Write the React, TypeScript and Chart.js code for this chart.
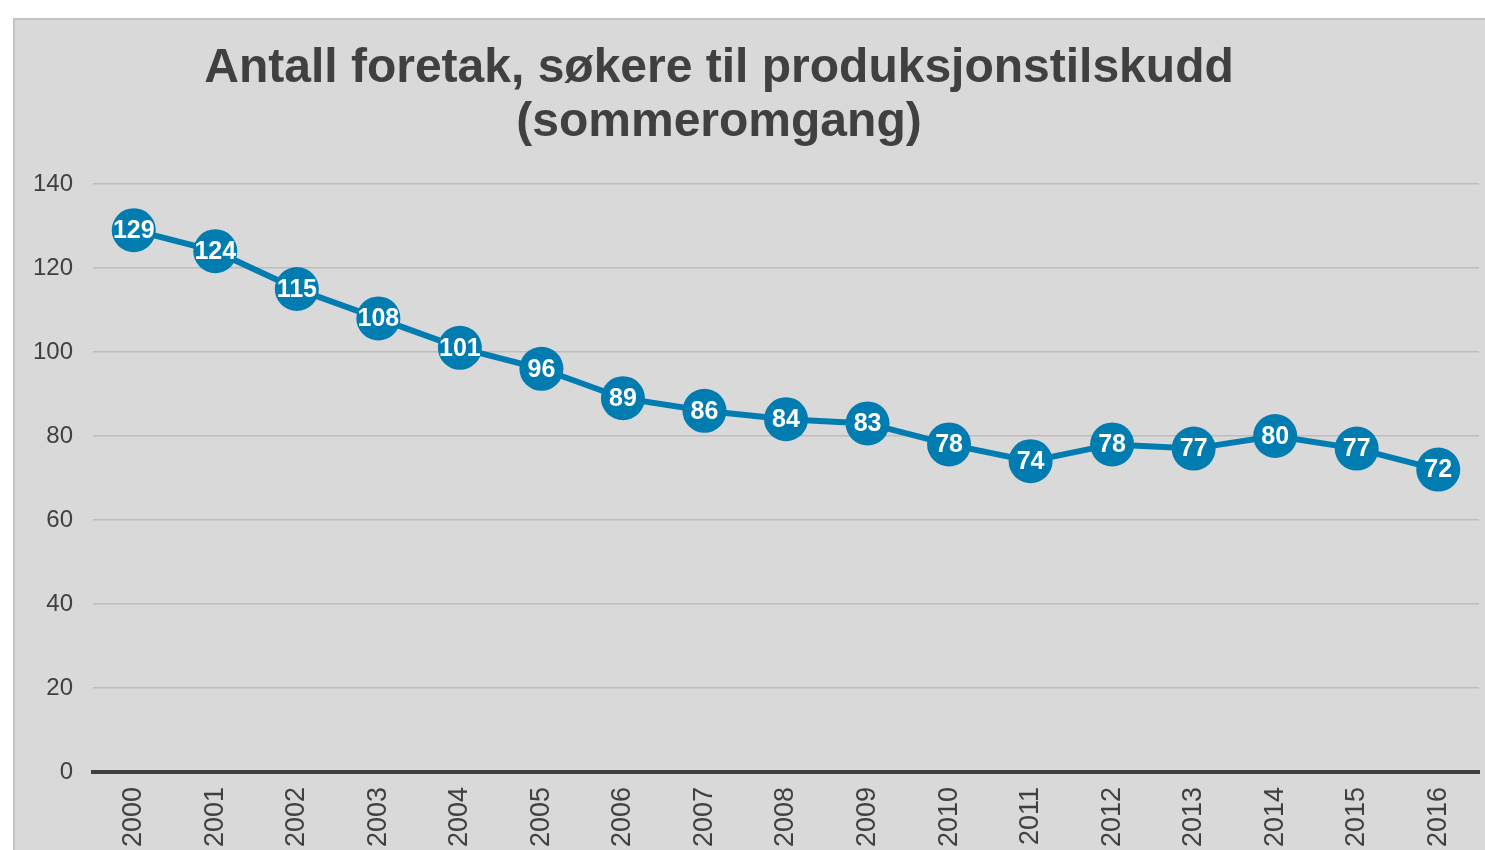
import React, { useEffect, useRef } from "react";
import { Chart, registerables } from "chart.js";

Chart.register(...registerables);

const years = ["2000","2001","2002","2003","2004","2005","2006","2007","2008","2009","2010","2011","2012","2013","2014","2015","2016"];
const foretak = [129, 124, 115, 108, 101, 96, 89, 86, 84, 83, 78, 74, 78, 77, 80, 77, 72];
const titleLines = ["Antall foretak, søkere til produksjonstilskudd", "(sommeromgang)"];

const FONT = "'Liberation Sans', Arial, Helvetica, sans-serif";
const BLUE = "#007CB0";
const TEXT = "#404040";

const titlePlugin = {
  id: "customTitle",
  afterDraw(chart: any) {
    const ctx = chart.ctx;
    ctx.save();
    ctx.fillStyle = TEXT;
    ctx.font = `bold 48px ${FONT}`;
    ctx.textAlign = "center";
    ctx.textBaseline = "alphabetic";
    ctx.fillText(titleLines[0], 704, 62);
    ctx.fillText(titleLines[1], 704, 116);
    ctx.restore();
  },
};

const labelPlugin = {
  id: "pointLabels",
  afterDatasetsDraw(chart: any) {
    const ctx = chart.ctx;
    const meta = chart.getDatasetMeta(0);
    ctx.save();
    ctx.fillStyle = "#ffffff";
    ctx.font = `bold 25px ${FONT}`;
    ctx.textAlign = "center";
    ctx.textBaseline = "middle";
    meta.data.forEach((pt: any, i: number) => {
      ctx.fillText(String(foretak[i]), pt.x, pt.y + 1);
    });
    ctx.restore();
  },
};

export default function App() {
  const ref = useRef<HTMLCanvasElement>(null);
  useEffect(() => {
    if (!ref.current) return;
    const chart = new Chart(ref.current, {
      type: "line",
      data: {
        labels: years,
        datasets: [
          {
            data: foretak,
            borderColor: BLUE,
            backgroundColor: BLUE,
            borderWidth: 6,
            pointRadius: 22,
            pointHoverRadius: 22,
            pointBackgroundColor: BLUE,
            pointBorderWidth: 0,
            tension: 0,
            clip: false,
          },
        ],
      },
      options: {
        animation: false,
        responsive: true,
        maintainAspectRatio: false,
        layout: { autoPadding: false, padding: { top: 164, right: 6, left: 0, bottom: 0 } },
        plugins: {
          legend: { display: false },
          tooltip: { enabled: false },
          title: { display: false },
        },
        scales: {
          x: {
            offset: true,
            grid: { display: false, drawTicks: false },
            border: { display: true, color: "#404040", width: 4 },
            ticks: {
              color: TEXT,
              font: { family: FONT, size: 27 },
              minRotation: 90,
              maxRotation: 90,
              autoSkip: false,
              padding: 15,
            },
            afterFit(scale: any) {
              scale.height = 78;
              scale.paddingLeft = 0;
              scale.paddingRight = 0;
            },
          },
          y: {
            min: 0,
            max: 140,
            ticks: {
              stepSize: 20,
              color: TEXT,
              font: { family: FONT, size: 24 },
              padding: 20,
            },
            grid: {
              drawTicks: false,
              color: (c: any) => (c.tick && c.tick.value === 0 ? "rgba(0,0,0,0)" : "#bdbdbd"),
              lineWidth: 1.5,
            },
            border: { display: false },
            afterFit(scale: any) {
              scale.width = 78;
            },
          },
        },
      },
      plugins: [titlePlugin, labelPlugin],
    });
    return () => chart.destroy();
  }, []);

  return (
    <div
      style={{
        position: "absolute",
        left: 13,
        top: 18,
        width: 1472,
        height: 832,
        boxSizing: "border-box",
        background: "#d9d9d9",
        borderTop: "2px solid #c4c4c4",
        borderLeft: "2px solid #c4c4c4",
        overflow: "hidden",
      }}
    >
      <canvas ref={ref} style={{ display: "block", width: "100%", height: "100%" }} />
    </div>
  );
}
